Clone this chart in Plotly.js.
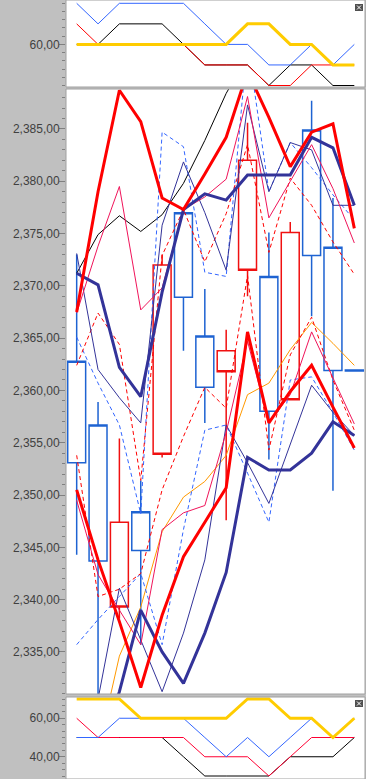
<!DOCTYPE html>
<html><head><meta charset="utf-8">
<script src="https://cdn.plot.ly/plotly-3.0.1.min.js"></script>
<style>html,body{margin:0;padding:0;background:#c0c0c0;}#chart{width:366px;height:779px;}</style>
</head><body><div id="chart"></div>
<script>
const bars = [0,1,2,3,4,5,6,7,8,9,10,11,12,13];
const candleOpen  = [2353.1, 2343.7, 2347.4, 2344.7, 2372.0, 2368.9, 2360.3, 2363.8, 2382.0, 2358.0, 2375.1, 2372.9, 2361.9, 2361.85];
const candleHigh  = [2373.0, 2358.9, 2355.4, 2351.4, 2373.0, 2377.3, 2369.7, 2365.8, 2385.6, 2375.1, 2376.1, 2387.7, 2378.4, 2361.95];
const candleLow   = [2344.3, 2329.0, 2338.2, 2335.7, 2353.6, 2363.8, 2356.9, 2347.6, 2369.0, 2353.4, 2359.1, 2367.1, 2350.4, 2361.85];
const candleClose = [2362.8, 2356.7, 2339.3, 2348.4, 2353.9, 2377.0, 2365.2, 2361.8, 2371.5, 2370.9, 2359.1, 2384.9, 2373.7, 2361.95];

const upperRedThick  = [2367.5, 2379.0, 2388.7, 2385.7, 2378.4, 2377.3, 2380.7, 2384.2, 2390.5, 2386.1, 2381.4, 2384.7, 2385.5, 2375.5];
const lowerRedThick  = [2350.5, 2343.8, 2337.9, 2331.6, 2338.5, 2344.1, 2347.4, 2350.7, 2365.6, 2356.9, 2359.9, 2362.4, 2358.4, 2354.5];
const upperNavyThick = [2371.2, 2370.1, 2362.2, 2359.4, 2369.4, 2377.3, 2378.8, 2378.2, 2380.6, 2380.6, 2380.6, 2384.2, 2383.2, 2377.7];
const lowerNavyThick = [2322.0, 2325.0, 2331.2, 2339.0, 2335.0, 2332.0, 2336.8, 2342.6, 2353.6, 2352.4, 2352.4, 2354.0, 2357.0, 2355.7];
const upperNavyThin  = [2373.1, 2362.0, 2359.3, 2356.9, 2375.8, 2381.85, 2377.0, 2371.5, 2387.3, 2379.0, 2383.7, 2383.0, 2377.7, 2377.7];
const lowerNavyThin  = [2322.0, 2330.5, 2341.1, 2336.2, 2331.2, 2336.8, 2343.8, 2356.7, 2353.1, 2349.2, 2354.9, 2360.5, 2357.9, 2355.7];
const upperCrimson   = [2367.4, 2373.8, 2379.5, 2367.7, 2369.8, 2377.3, 2378.5, 2380.2, 2388.1, 2376.5, 2380.0, 2383.5, 2379.3, 2374.1];
const lowerCrimson   = [2349.5, 2342.4, 2339.0, 2335.7, 2346.7, 2348.3, 2349.0, 2356.0, 2364.7, 2356.9, 2359.6, 2365.6, 2361.2, 2356.8];
const upperRedDash   = [2362.4, 2367.4, 2364.4, 2351.4, 2372.9, 2377.3, 2372.3, 2376.9, 2383.5, 2373.2, 2380.3, 2377.7, 2374.2, 2371.1];
const lowerRedDash   = [2353.8, 2340.3, 2341.0, 2342.5, 2350.5, 2355.6, 2360.3, 2358.3, 2371.0, 2354.3, 2363.4, 2367.0, 2361.0, 2356.2];
const upperBlueDash  = [2365.1, 2360.7, 2356.7, 2348.2, 2384.7, 2383.3, 2371.3, 2370.9, 2393.3, 2379.0, 2383.7, 2381.3, 2378.7, 2376.3];
const lowerBlueDash  = [2335.7, 2338.1, 2340.3, 2342.5, 2335.7, 2346.7, 2356.2, 2356.7, 2352.1, 2347.4, 2361.0, 2361.3, 2357.9, 2354.3];
const orangeLine     = [2322.0, 2325.6, 2334.6, 2339.3, 2346.5, 2349.8, 2351.3, 2353.8, 2359.6, 2360.7, 2363.9, 2366.5, 2364.5, 2362.4];
const blackLine      = [2371.2, 2374.9, 2376.7, 2375.2, 2376.8, 2379.8, 2383.9, 2388.4, 2392.0, 2393.5, 2394.5, 2395.5, 2396.5, 2397.5];

const topBlue   = [80, 70, 80, 80, 80, 80, 70, 60, 60, 50, 50, 60, 50, 60];
const topRed    = [70, 60, 60, 60, 60, 60, 50, 50, 50, 40, 40, 50, 50, 50];
const topBlack  = [60, 60, 70, 70, 70, 60, 50, 50, 50, 40, 50, 50, 40, 40];
const topYellow = [60, 60, 60, 60, 60, 60, 60, 60, 70, 70, 60, 60, 50, 50];

const botYellow = [70, 70, 70, 60, 60, 60, 60, 60, 70, 70, 60, 60, 50, 60];
const botBlue   = [50, 50, 60, 60, 60, 60, 50, 40, 50, 40, 50, 60, 50, 60];
const botRed    = [60, 50, 50, 50, 50, 50, 40, 40, 40, 30, 40, 50, 50, 50];
const botBlack  = [50, 50, 50, 50, 50, 40, 30, 30, 30, 30, 40, 40, 40, 50];

const W = 366, H = 779, L = 66, R = 365;
function py(p){ return 1 - p / H; }
function px(p){ return (p - L) / (R - L); }

function ln(y, color, width, dash, axis){
  return {type:'scatter', mode:'lines', x:bars, y:y, yaxis:axis||'y2',
    line:{color:color, width:width, dash:dash||'solid'}, hoverinfo:'skip', showlegend:false};
}
const DASH = '4px,3px';
const traces = [
  {type:'candlestick', x:bars, open:candleOpen, high:candleHigh, low:candleLow, close:candleClose,
   yaxis:'y2', whiskerwidth:0, showlegend:false, hoverinfo:'skip',
   increasing:{line:{color:'#1e63d2', width:1.5}, fillcolor:'rgba(255,255,255,0)'},
   decreasing:{line:{color:'#f01010', width:1.5}, fillcolor:'rgba(255,255,255,0)'}},
  ln(orangeLine, '#ff9900', 1),
  ln(blackLine, '#000000', 1),
  ln(upperBlueDash, '#3366ff', 1, DASH),
  ln(lowerBlueDash, '#3366ff', 1, DASH),
  ln(upperRedDash, '#ff0000', 1, DASH),
  ln(lowerRedDash, '#ff0000', 1, DASH),
  ln(upperNavyThin, '#333399', 1),
  ln(lowerNavyThin, '#333399', 1),
  ln(upperCrimson, '#f0145a', 1),
  ln(lowerCrimson, '#f0145a', 1),
  ln(upperNavyThick, '#333399', 3),
  ln(lowerNavyThick, '#333399', 3),
  ln(upperRedThick, '#ff0000', 3),
  ln(lowerRedThick, '#ff0000', 3),
  ln(topBlack, '#000000', 1, null, 'y'),
  ln(topRed, '#ff0000', 1, null, 'y'),
  ln(topBlue, '#3366ff', 1, null, 'y'),
  ln(topYellow, '#ffcc00', 3, null, 'y'),
  ln(botBlack, '#000000', 1, null, 'y3'),
  ln(botRed, '#ff0033', 1, null, 'y3'),
  ln(botBlue, '#3366ff', 1, null, 'y3'),
  ln(botYellow, '#ffcc00', 3, null, 'y3')
];

const tickFont = {family:'Liberation Sans, Arial, sans-serif', size:12, color:'#404040'};
function yax(domain, range, tick0, dtick, mtick0, mdtick){
  return {domain:domain, range:range, autorange:false, fixedrange:true,
    showgrid:false, zeroline:false, showline:false,
    ticks:'outside', ticklen:6, tickwidth:1, tickcolor:'#808080', ticklabelstandoff:-3,
    tick0:tick0, dtick:dtick, tickformat:',.2f', tickfont:tickFont,
    minor:{ticks:'outside', ticklen:3, tickcolor:'#808080', tick0:mtick0, dtick:mdtick, showgrid:false}};
}
const dTop = [py(87), 1];
const dMain = [py(694), py(89)];
const dBot = [0, py(697)];

function icon(yTopPx){
  return [
    {type:'rect', xref:'paper', yref:'paper', x0:px(355), x1:px(363), y0:py(yTopPx+7), y1:py(yTopPx), fillcolor:'#505050', line:{width:0}},
    {type:'line', xref:'paper', yref:'paper', x0:px(357), x1:px(361), y0:py(yTopPx+5.5), y1:py(yTopPx+1.5), line:{color:'#ffffff', width:1}},
    {type:'line', xref:'paper', yref:'paper', x0:px(357), x1:px(361), y0:py(yTopPx+1.5), y1:py(yTopPx+5.5), line:{color:'#ffffff', width:1}}
  ];
}
function box(d){
  return {type:'rect', xref:'paper', yref:'paper', x0:0, x1:1, y0:d[0], y1:d[1], line:{color:'#a0a0a0', width:1}, fillcolor:'rgba(0,0,0,0)'};
}
const shapes = [box(dTop), box(dMain), box(dBot)].concat(icon(4)).concat(icon(700));

const layout = {
  width:W, height:H, margin:{l:L, r:W-R, t:0, b:0, pad:0},
  paper_bgcolor:'#c0c0c0', plot_bgcolor:'#ffffff',
  separators:',,', showlegend:false, hovermode:false, boxgap:0.16, boxgroupgap:0,
  xaxis:{range:[-0.5, 13.5], autorange:false, fixedrange:true, showticklabels:false, ticks:'', showgrid:false, zeroline:false, showline:false, rangeslider:{visible:false}},
  yaxis: yax(dTop, [39.27, 81.61], 60, 40, 0, 4),
  yaxis2: yax(dMain, [2330.98, 2388.82], 2335, 5, 2335, 1),
  yaxis3: yax(dBot, [28.44, 71.04], 0, 20, 0, 20/6),
  shapes: shapes
};
Plotly.newPlot('chart', traces, layout, {displayModeBar:false, staticPlot:true});
</script></body></html>
